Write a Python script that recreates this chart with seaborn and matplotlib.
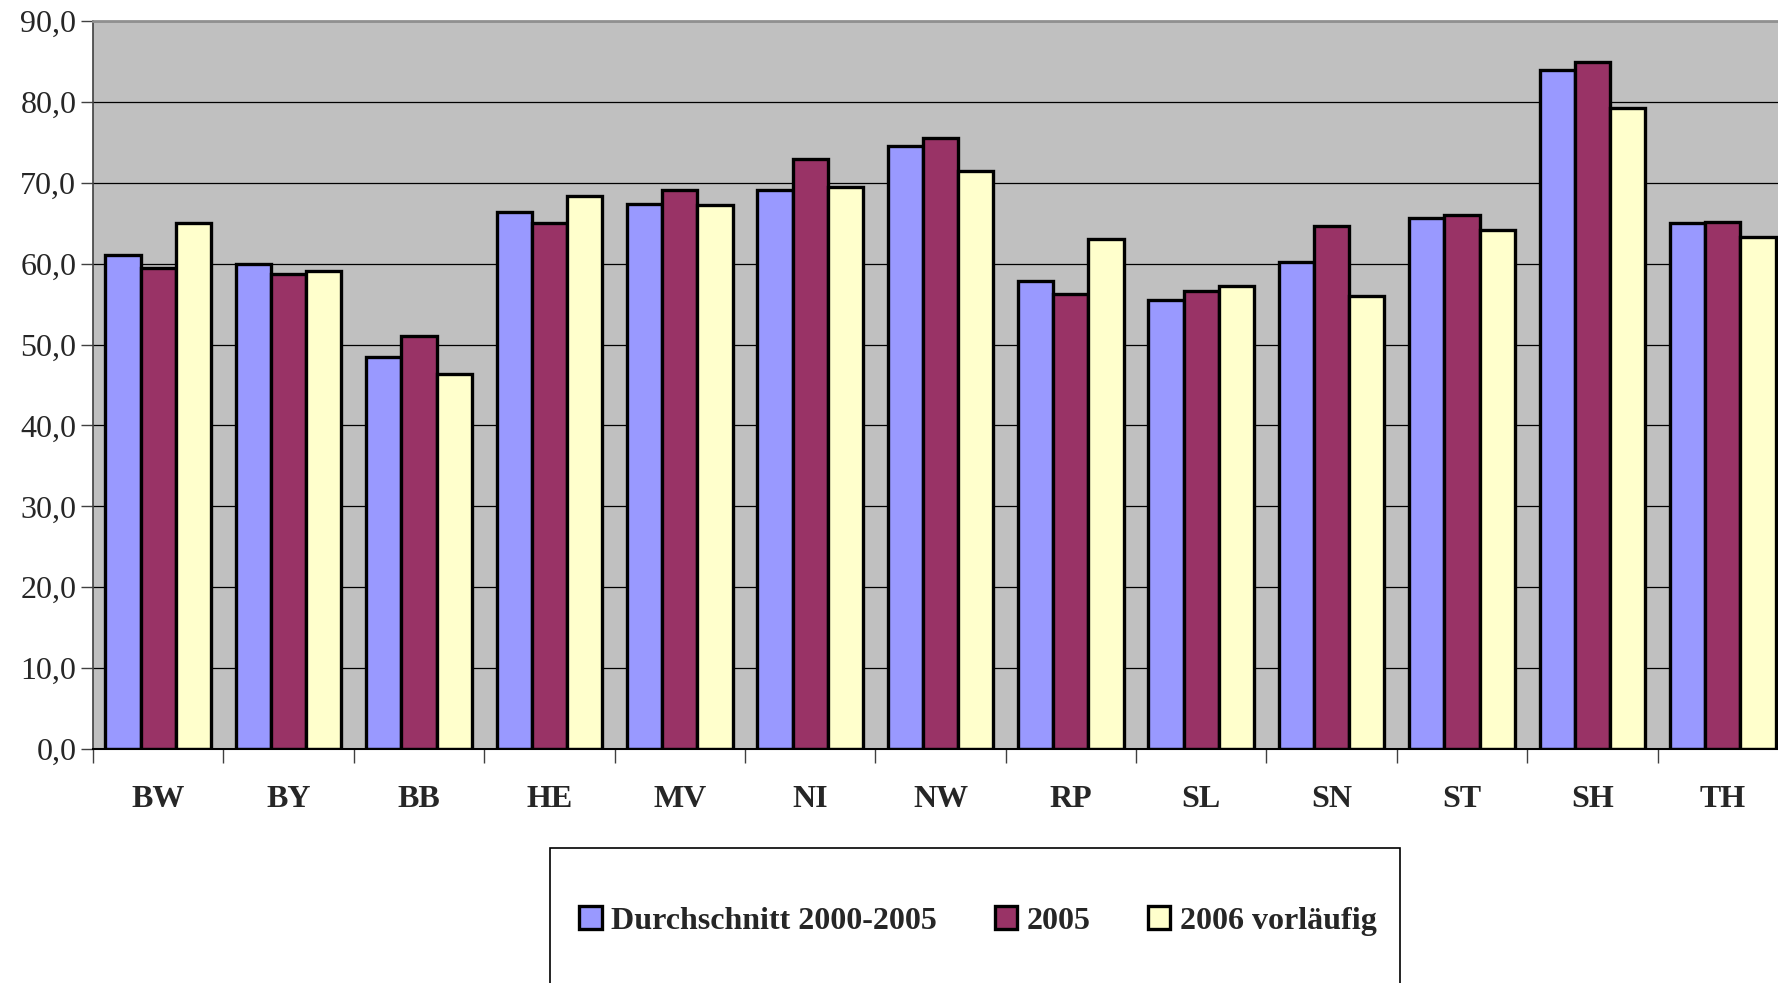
import numpy as np
import pandas as pd
import matplotlib
matplotlib.use("Agg")
import matplotlib.pyplot as plt
import matplotlib.ticker as mticker
from matplotlib.patches import Rectangle
import seaborn as sns

# Data
laender = ["BW", "BY", "BB", "HE", "MV", "NI", "NW", "RP", "SL", "SN", "ST", "SH", "TH"]
durchschnitt = [61.1, 60.0, 48.4, 66.4, 67.4, 69.1, 74.6, 57.8, 55.5, 60.2, 65.6, 84.0, 65.0]
werte_2005 = [59.5, 58.7, 51.0, 65.0, 69.1, 72.9, 75.5, 56.2, 56.6, 64.6, 66.0, 84.9, 65.1]
werte_2006 = [65.0, 59.1, 46.3, 68.4, 67.3, 69.5, 71.5, 63.0, 57.3, 56.0, 64.2, 79.3, 63.3]
serien = ["Durchschnitt 2000-2005", "2005", "2006 vorläufig"]
farben = ["#9999FF", "#993366", "#FFFFCC"]

df = pd.DataFrame({
    "Land": laender * 3,
    "Serie": np.repeat(serien, len(laender)),
    "Wert": durchschnitt + werte_2005 + werte_2006,
})

sns.set_style("white")
plt.rcParams["font.family"] = ["Liberation Serif", "DejaVu Serif"]

fig = plt.figure(figsize=(17.78, 9.83), dpi=100)
ax = fig.add_axes([93 / 1778, 1 - 749 / 983, 1695 / 1778, (749 - 21) / 983])

sns.barplot(data=df, x="Land", y="Wert", hue="Serie", palette=farben,
            width=0.81, edgecolor="black", linewidth=2.4, saturation=1,
            ax=ax, legend=True)
handles, labels = ax.get_legend_handles_labels()
ax.get_legend().remove()

ax.set_facecolor("#C0C0C0")
ax.set_ylim(0, 90)
ax.set_xlim(-0.5, len(laender) - 0.5)
ax.set_yticks(np.arange(0, 91, 10))
ax.yaxis.set_major_formatter(mticker.FuncFormatter(lambda v, p: f"{v:.1f}".replace(".", ",")))
ax.grid(axis="y", color="black", linewidth=0.9)
ax.set_axisbelow(True)
ax.set_xlabel("")
ax.set_ylabel("")

ax.tick_params(axis="y", length=9, width=1, color="#404040", labelsize=23, pad=3, left=True)
ax.tick_params(axis="x", which="major", length=0, labelsize=23, pad=26)
ax.set_xticks(np.arange(len(laender) + 1) - 0.5, minor=True)
ax.tick_params(axis="x", which="minor", length=10, width=1, color="#404040", bottom=True)
for t in ax.get_xticklabels():
    t.set_fontweight("bold")

ax.spines["right"].set_visible(False)
ax.spines["left"].set_color("#404040")
ax.spines["left"].set_linewidth(1.2)
ax.spines["bottom"].set_color("black")
ax.spines["bottom"].set_linewidth(1.5)
ax.spines["top"].set_color("#909090")
ax.spines["top"].set_linewidth(2)

# Legend box
fig.patches.append(Rectangle((550 / 1778, -0.05), 850 / 1778, 0.05 + 1 - 848 / 983,
                             transform=fig.transFigure, facecolor="white",
                             edgecolor="black", linewidth=1.2))
fig.legend(handles, labels, loc="center", bbox_to_anchor=(978 / 1778, 1 - 921 / 983),
           ncol=3, frameon=False, handlelength=0.7, handleheight=0.7,
           handletextpad=0.3, columnspacing=1.8, prop={"weight": "bold", "size": 23})

fig.savefig("out.png", dpi=100)
